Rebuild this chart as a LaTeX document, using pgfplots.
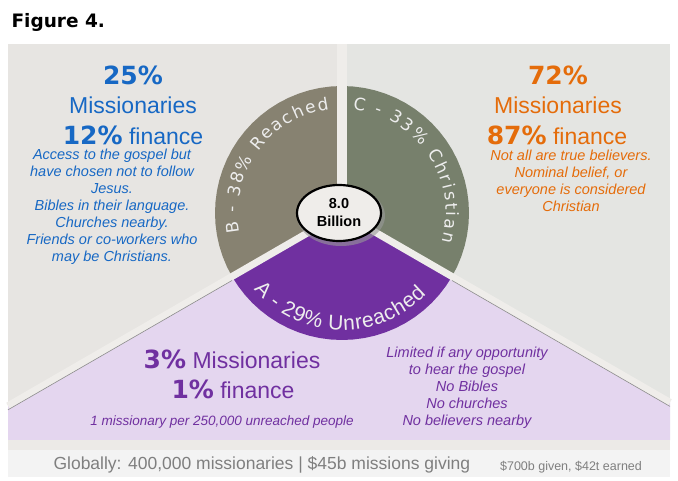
\documentclass[border=0pt]{standalone}
\usepackage{fontspec}
\setmainfont{Liberation Sans}
\newfontfamily\dvs{DejaVu Sans}
\usepackage{pgfplots}
\pgfplotsset{compat=1.18}
\usetikzlibrary{decorations.text}

\definecolor{panL}{HTML}{E7E5E2}
\definecolor{panR}{HTML}{E4E5E2}
\definecolor{band}{HTML}{EFEDEA}
\definecolor{lilac}{HTML}{E4D6EF}
\definecolor{wedgeA}{HTML}{7030A0}
\definecolor{wedgeB}{HTML}{878271}
\definecolor{wedgeC}{HTML}{77806C}
\definecolor{blueT}{HTML}{1768C4}
\definecolor{orangeT}{HTML}{E46C0A}
\definecolor{purpleT}{HTML}{7030A0}
\definecolor{footT}{HTML}{7F7F7F}
\definecolor{foot}{HTML}{F3F3F3}
\definecolor{footband}{HTML}{ECEAE7}

\newcommand{\pct}[1]{{\dvs\bfseries\fontsize{25}{28}\selectfont #1}}

\begin{document}
\begin{tikzpicture}
\begin{axis}[x=1pt, y=1pt, xmin=-342, xmax=336, ymin=-267, ymax=213, hide axis]

% page backdrop and panels (pixel-like units, origin at pie centre)
\addplot[fill=white, draw=none] coordinates {(-342,-267) (336,-267) (336,213) (-342,213)};
\addplot[fill=panL, draw=none] coordinates {(-334,-227) (0,-227) (0,169) (-334,169)};
\addplot[fill=panR, draw=none] coordinates {(0,-227) (328,-227) (328,169) (0,169)};
\addplot[fill=lilac, draw=none] coordinates {(0,0) (-334,-192.8) (-334,-227) (328,-227) (328,-189.4)};
\addplot[fill=footband, draw=none] coordinates {(-334,-227) (328,-227) (328,-237) (-334,-237)};
\addplot[fill=foot, draw=none] coordinates {(-334,-237) (328,-237) (328,-264) (-334,-264)};

% pie: three segments (angle, radius)
\addplot[fill=wedgeB, draw=none, data cs=polar] coordinates {
  (0,0) (90,127) (95,127) (100,127) (105,127) (110,127) (115,127) (120,127)
  (125,127) (130,127) (135,127) (140,127) (145,127) (150,127) (155,127)
  (160,127) (165,127) (170,127) (175,127) (180,127) (185,127) (190,127)
  (195,127) (200,127) (205,127) (210,127)};
\addplot[fill=wedgeC, draw=none, data cs=polar] coordinates {
  (0,0) (-30,127) (-25,127) (-20,127) (-15,127) (-10,127) (-5,127) (0,127)
  (5,127) (10,127) (15,127) (20,127) (25,127) (30,127) (35,127) (40,127)
  (45,127) (50,127) (55,127) (60,127) (65,127) (70,127) (75,127) (80,127)
  (85,127) (90,127)};
\addplot[fill=wedgeA, draw=none, data cs=polar] coordinates {
  (0,0) (210,127) (215,127) (220,127) (225,127) (230,127) (235,127) (240,127)
  (245,127) (250,127) (255,127) (260,127) (265,127) (270,127) (275,127)
  (280,127) (285,127) (290,127) (295,127) (300,127) (305,127) (310,127)
  (315,127) (320,127) (325,127) (330,127)};

% separating bands
\addplot[draw=band, line width=10pt] coordinates {(0,0) (0,169)};
\addplot[draw=band, line width=7pt] coordinates {(0,0) (-334,-192.8)};
\addplot[draw=band, line width=7pt] coordinates {(0,0) (328,-189.4)};
\addplot[draw=black!45, line width=0.6pt] coordinates {(-110,-67.5) (-334,-196.8)};
\addplot[draw=black!45, line width=0.6pt] coordinates {(110,-67.5) (328,-193.4)};

% segment labels along the arcs
\path[decorate, decoration={text along path, text color=white!93!black,
  text={|\dvs\fontsize{17}{20}\selectfont|B - 38{\%} Reached}, text align={fit to path}}]
  (axis cs:0,0) ++(191:104pt) arc[start angle=191, end angle=97, radius=104pt];
\path[decorate, decoration={text along path, text color=white!93!black,
  text={|\dvs\fontsize{17}{20}\selectfont|C - 33{\%} Christian}, text align={fit to path}}]
  (axis cs:0,0) ++(84:104pt) arc[start angle=84, end angle=-16, radius=104pt];
\path[decorate, decoration={text along path, text color=white!93!black,
  text={|\fontsize{21}{24}\selectfont|A - 29{\%} Unreached}, text align={fit to path}}]
  (axis cs:0,0) ++(221:117pt) arc[start angle=221, end angle=316, radius=117pt];

% centre badge
\fill[black!40, opacity=0.6] (axis cs:-1,-3) ellipse [x radius=44pt, y radius=30pt];
\draw[line width=2.2pt, fill=band] (axis cs:-3,0) ellipse [x radius=42pt, y radius=28pt];
\node[align=center, font=\bfseries\fontsize{14.5}{18}\selectfont] at (axis cs:-3,0) {8.0\\Billion};

% title
\node[anchor=base west, font=\dvs\bfseries\fontsize{18.5}{20}\selectfont] at (axis cs:-334,185) {Figure 4.};

% B block
\node[text=blueT] at (axis cs:-209,138) {\pct{25\%}};
\node[text=blueT, font=\fontsize{23}{27}\selectfont] at (axis cs:-209,108) {Missionaries};
\node[text=blueT, font=\fontsize{23}{27}\selectfont] at (axis cs:-209,78) {\pct{12\%} finance};
\node[text=blueT, align=center, font=\itshape\fontsize{14.5}{17}\selectfont] at (axis cs:-230,6.5)
  {Access to the gospel but\\have chosen not to follow\\Jesus.\\Bibles in their language.\\Churches nearby.\\Friends or co-workers who\\may be Christians.};

% C block
\node[text=orangeT] at (axis cs:216,138) {\pct{72\%}};
\node[text=orangeT, font=\fontsize{23}{27}\selectfont] at (axis cs:216,108) {Missionaries};
\node[text=orangeT, font=\fontsize{23}{27}\selectfont] at (axis cs:215,78) {\pct{87\%} finance};
\node[text=orangeT, align=center, font=\itshape\fontsize{14.5}{17}\selectfont] at (axis cs:229,32)
  {Not all are true believers.\\Nominal belief, or\\everyone is considered\\Christian};

% A block
\node[text=purpleT, font=\fontsize{23}{27}\selectfont] at (axis cs:-110,-146) {\pct{3\%} Missionaries};
\node[text=purpleT, font=\fontsize{23}{27}\selectfont] at (axis cs:-109,-176) {\pct{1\%} finance};
\node[text=purpleT, font=\itshape\fontsize{13.5}{16}\selectfont] at (axis cs:-120,-209)
  {1 missionary per 250,000 unreached people};
\node[text=purpleT, align=center, font=\itshape\fontsize{14.5}{17}\selectfont] at (axis cs:125,-174.5)
  {Limited if any opportunity\\to hear the gospel\\No Bibles\\No churches\\No believers nearby};

% footer
\node[anchor=west, text=footT, font=\fontsize{17.5}{20}\selectfont] at (axis cs:-292,-252)
  {Globally: 400,000 missionaries | \$45b missions giving};
\node[text=footT, font=\fontsize{12.5}{15}\selectfont] at (axis cs:229,-254)
  {\$700b given, \$42t earned};

\end{axis}
\end{tikzpicture}
\end{document}
